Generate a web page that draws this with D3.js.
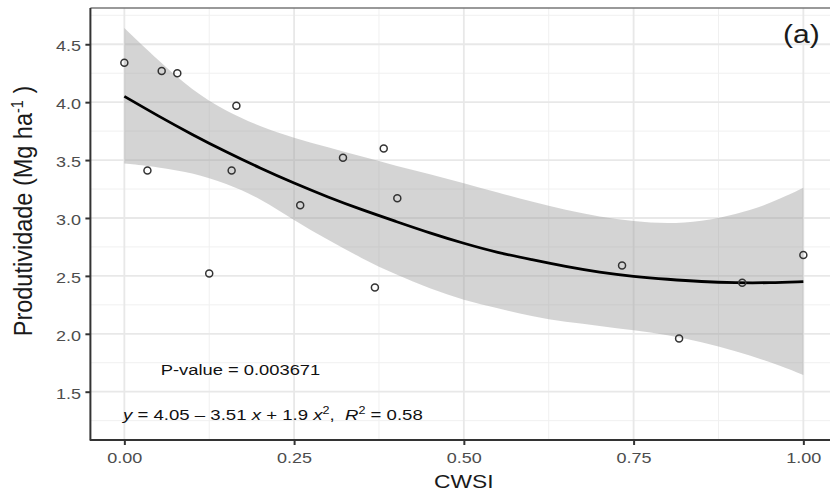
<!DOCTYPE html>
<html><head><meta charset="utf-8">
<script src="https://cdn.jsdelivr.net/npm/d3@7"></script>
<style>body{margin:0;background:#fff}svg{display:block}text{font-family:"Liberation Sans",Arial,sans-serif}</style>
</head><body><svg id="c" width="830" height="493"></svg>
<script>
// observed points
const cwsi = [0.000, 0.034, 0.055, 0.078, 0.125, 0.158, 0.165, 0.259, 0.322, 0.369, 0.382, 0.402, 0.733, 0.817, 0.910, 1.000];
const prod = [4.34, 3.41, 4.27, 4.25, 2.52, 3.41, 3.97, 3.11, 3.52, 2.40, 3.60, 3.17, 2.59, 1.96, 2.44, 2.68];
// fitted curve and confidence band
const gridX  = [0, 0.05, 0.10, 0.15, 0.20, 0.25, 0.30, 0.35, 0.40, 0.45, 0.50, 0.55, 0.60, 0.65, 0.70, 0.75, 0.80, 0.85, 0.90, 0.95, 1.00];
const fitY   = [4.05, 3.88, 3.72, 3.57, 3.43, 3.30, 3.18, 3.07, 2.97, 2.87, 2.78, 2.70, 2.64, 2.58, 2.53, 2.495, 2.47, 2.45, 2.44, 2.44, 2.45];
const upperY = [4.64, 4.36, 4.10, 3.92, 3.79, 3.69, 3.61, 3.53, 3.45, 3.38, 3.30, 3.22, 3.14, 3.07, 3.01, 2.97, 2.95, 2.97, 3.03, 3.12, 3.26];
const lowerY = [3.47, 3.44, 3.39, 3.30, 3.17, 2.98, 2.81, 2.65, 2.51, 2.39, 2.29, 2.22, 2.15, 2.10, 2.07, 2.03, 1.99, 1.93, 1.85, 1.76, 1.645];
// ticks
const xTicks = [0, 0.25, 0.5, 0.75, 1];
const xTickLabels = ["0.00", "0.25", "0.50", "0.75", "1.00"];
const yTicks = [1.5, 2, 2.5, 3, 3.5, 4, 4.5];
const yTickLabels = ["1.5", "2.0", "2.5", "3.0", "3.5", "4.0", "4.5"];
const xMinor = [0.125, 0.375, 0.625, 0.875];
const yMinor = [1.25, 1.75, 2.25, 2.75, 3.25, 3.75, 4.25, 4.75];

const SX = 1.2; // horizontal text stretch
const svg = d3.select("#c");
const x = d3.scaleLinear().domain([-0.05, 1.05]).range([90.4, 837.3]);
const y = d3.scaleLinear().domain([1.083, 4.813]).range([440, 8]);
const L = 90.4, R = 837.3, T = 8, B = 440;

svg.append("rect").attr("x", L).attr("y", T).attr("width", R - L).attr("height", B - T).attr("fill", "#fff");

const g = svg.append("g");
// minor grid
g.selectAll(".mx").data(xMinor).join("line").attr("x1", d => x(d)).attr("x2", d => x(d)).attr("y1", T).attr("y2", B)
  .attr("stroke", "#f0f0f0").attr("stroke-width", 1);
g.selectAll(".my").data(yMinor).join("line").attr("y1", d => y(d)).attr("y2", d => y(d)).attr("x1", L).attr("x2", R)
  .attr("stroke", "#f0f0f0").attr("stroke-width", 1);
// major grid
g.selectAll(".gx").data(xTicks).join("line").attr("x1", d => x(d)).attr("x2", d => x(d)).attr("y1", T).attr("y2", B)
  .attr("stroke", "#e8e8e8").attr("stroke-width", 1.8);
g.selectAll(".gy").data(yTicks).join("line").attr("y1", d => y(d)).attr("y2", d => y(d)).attr("x1", L).attr("x2", R)
  .attr("stroke", "#e8e8e8").attr("stroke-width", 1.8);

// band
const bandData = gridX.map((d, i) => ({x: d, lo: lowerY[i], hi: upperY[i], f: fitY[i]}));
const area = d3.area().x(d => x(d.x)).y0(d => y(d.lo)).y1(d => y(d.hi)).curve(d3.curveBasis);
svg.append("path").datum(bandData).attr("d", area).attr("fill", "#999999").attr("fill-opacity", 0.42);

// fitted line
const line = d3.line().x(d => x(d.x)).y(d => y(d.f)).curve(d3.curveBasis);
svg.append("path").datum(bandData).attr("d", line).attr("fill", "none").attr("stroke", "#000").attr("stroke-width", 2.8);

// points
svg.selectAll(".pt").data(cwsi.map((d, i) => ({x: d, y: prod[i]}))).join("circle")
  .attr("cx", d => x(d.x)).attr("cy", d => y(d.y)).attr("r", 3.5)
  .attr("fill", "none").attr("stroke", "#333").attr("stroke-width", 1.5);

// border (top/right) and axis lines
svg.append("line").attr("x1", L).attr("x2", R).attr("y1", T).attr("y2", T).attr("stroke", "#777").attr("stroke-width", 1.6);
svg.append("line").attr("x1", R).attr("x2", R).attr("y1", T).attr("y2", B).attr("stroke", "#777").attr("stroke-width", 1.6);

// axes
const xAxis = svg.append("g").attr("transform", `translate(0,${B})`)
  .call(d3.axisBottom(x).tickValues(xTicks).tickFormat((d, i) => xTickLabels[i]).tickSize(5).tickSizeOuter(0));
xAxis.select(".domain").remove();
xAxis.selectAll(".tick line").attr("stroke", "#333").attr("stroke-width", 2);
xAxis.selectAll(".tick text").attr("y", 12).attr("dy", "0.71em").attr("fill", "#4d4d4d")
  .attr("font-size", 15).attr("transform", `scale(${SX},1)`);

const yAxis = svg.append("g").attr("transform", `translate(${L},0)`)
  .call(d3.axisLeft(y).tickValues(yTicks).tickFormat((d, i) => yTickLabels[i]).tickSize(5).tickSizeOuter(0));
yAxis.select(".domain").remove();
yAxis.selectAll(".tick line").attr("stroke", "#333").attr("stroke-width", 2);
yAxis.selectAll(".tick text").attr("x", -9.5 / SX).attr("dy", "0.42em").attr("fill", "#4d4d4d")
  .attr("font-size", 15).attr("transform", `scale(${SX},1)`);

svg.append("line").attr("x1", L).attr("x2", L).attr("y1", T).attr("y2", B + 0.5).attr("stroke", "#333").attr("stroke-width", 2);
svg.append("line").attr("x1", L - 0.5).attr("x2", R).attr("y1", B).attr("y2", B).attr("stroke", "#333").attr("stroke-width", 2);

// axis titles
svg.append("g").attr("transform", `translate(${x(0.5)},488)`)
  .append("text").attr("text-anchor", "middle").attr("font-size", 19).attr("fill", "#1a1a1a")
  .attr("transform", `scale(${SX},1)`).text("CWSI");

const yt = svg.append("g").attr("transform", `translate(31.5,${(T + B) / 2 - 13}) rotate(-90)`)
  .append("text").attr("text-anchor", "middle").attr("font-size", 23.5).attr("fill", "#1a1a1a")
  .attr("transform", "scale(1,1.08)");
yt.append("tspan").text("Produtividade (Mg ha");
yt.append("tspan").attr("font-size", 14.5).attr("dy", -8).text("-1");
yt.append("tspan").attr("dy", 8).text("\u00a0)");

// panel label
svg.append("g").attr("transform", `translate(${x(1.0) - 2},${y(4.51)})`)
  .append("text").attr("text-anchor", "middle").attr("font-size", 25).attr("fill", "#1a1a1a")
  .attr("transform", `scale(${SX},1)`).text("(a)");

// annotations
svg.append("g").attr("transform", `translate(${x(0.171)},${y(1.648)})`)
  .append("text").attr("text-anchor", "middle").attr("font-size", 15.3).attr("fill", "#111")
  .attr("transform", `scale(${SX},1)`).text("P-value = 0.003671");

const eq = svg.append("g").attr("transform", `translate(${x(-0.002)},${y(1.26)})`)
  .append("text").attr("text-anchor", "start").attr("font-size", 15.5).attr("fill", "#111")
  .attr("transform", `scale(${SX},1)`);
eq.append("tspan").attr("font-style", "italic").text("y");
eq.append("tspan").text("\u00a0= 4.05 \u2013 3.51\u00a0");
eq.append("tspan").attr("font-style", "italic").text("x");
eq.append("tspan").text("\u00a0+ 1.9\u00a0");
eq.append("tspan").attr("font-style", "italic").text("x");
eq.append("tspan").attr("font-size", 10.5).attr("dy", -6).text("2");
eq.append("tspan").attr("dy", 6).text(",\u00a0\u00a0");
eq.append("tspan").attr("font-style", "italic").text("R");
eq.append("tspan").attr("font-size", 10.5).attr("dy", -6).text("2");
eq.append("tspan").attr("dy", 6).text("\u00a0= 0.58");
</script></body></html>
